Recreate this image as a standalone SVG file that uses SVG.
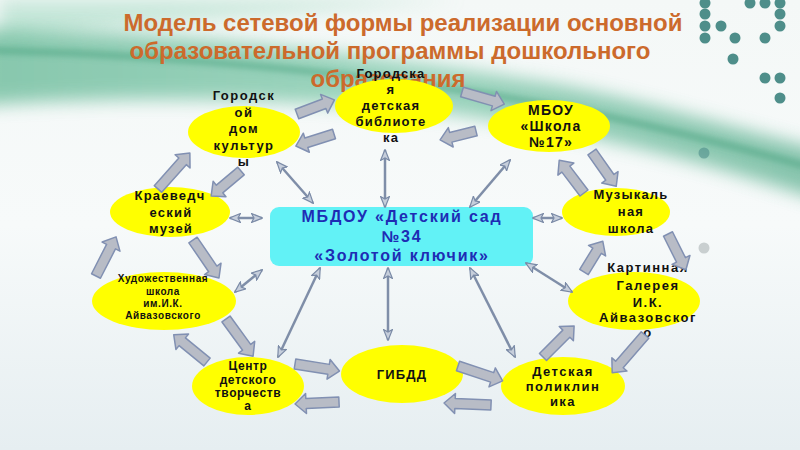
<svg xmlns="http://www.w3.org/2000/svg" width="800" height="450" viewBox="0 0 800 450">
<defs>
<linearGradient id="bg" x1="0" y1="0" x2="0" y2="1">
<stop offset="0" stop-color="#f4f8f7"/>
<stop offset="0.5" stop-color="#f7fafa"/>
<stop offset="1" stop-color="#e6eef1"/>
</linearGradient>
<linearGradient id="sw" x1="0" y1="0" x2="1" y2="0">
<stop offset="0" stop-color="#3fa77c"/>
<stop offset="0.5" stop-color="#62bd98"/>
<stop offset="1" stop-color="#3a9f78"/>
</linearGradient>
<filter id="blur" x="-10%" y="-50%" width="120%" height="200%"><feGaussianBlur stdDeviation="9"/></filter>
<filter id="blur2" x="-10%" y="-50%" width="120%" height="200%"><feGaussianBlur stdDeviation="3"/></filter>
<marker id="dh" viewBox="0 0 12 10" refX="11" refY="5" markerWidth="12" markerHeight="10" markerUnits="userSpaceOnUse" orient="auto-start-reverse">
<path d="M0.5,0.5 L11.5,5 L0.5,9.5 L3,5 Z" fill="#c6cedb" stroke="#7a8aa6" stroke-width="1.2"/>
</marker>
<style>
.title{font-family:"Liberation Sans",Arial,sans-serif;font-weight:bold;font-size:24px;fill:#cc6a2c;text-anchor:middle}
.ell{fill:#ffff00}
.nt{font-family:"Liberation Sans",Arial,sans-serif;font-weight:bold;font-size:13px;fill:#111;text-anchor:middle;letter-spacing:1.2px}
.ct{font-family:"Liberation Sans",Arial,sans-serif;font-weight:bold;font-size:16px;fill:#1e2cb4;text-anchor:middle;letter-spacing:1.8px}
.ba{fill:#b8bcc6;stroke:#8190b2;stroke-width:1.5;stroke-linejoin:round}
.ln{stroke:#7f8ea8;stroke-width:2.5;fill:none;marker-start:url(#dh);marker-end:url(#dh)}
.dot{fill:#4e8e8a}
</style>
</defs>
<rect x="0" y="0" width="800" height="450" fill="url(#bg)"/>
<g id="background">
<path d="M0,0 H460 C320,12 160,20 0,40 Z" fill="#a8dcc6" opacity="0.6" filter="url(#blur)"/>
<path d="M-20,30 C180,30 380,55 560,85 C660,105 740,130 820,150 L820,200 C730,170 610,135 460,115 C300,98 150,95 -20,105 Z" fill="url(#sw)" opacity="0.6" filter="url(#blur)"/>
<path d="M-20,50 C200,55 430,80 600,115 C680,132 750,150 820,170" stroke="#3b9a74" stroke-width="6" fill="none" opacity="0.5" filter="url(#blur2)"/>
<circle class="dot" cx="705" cy="3" r="5.5"/>
<circle class="dot" cx="705" cy="14" r="5.5"/>
<circle class="dot" cx="705" cy="26" r="5.5"/>
<circle class="dot" cx="705" cy="38" r="5.5"/>
<circle class="dot" cx="721" cy="26" r="5.5"/>
<circle class="dot" cx="735" cy="38" r="5.5"/>
<circle class="dot" cx="733" cy="59" r="5.5"/>
<circle class="dot" cx="750" cy="3" r="5.5"/>
<circle class="dot" cx="765" cy="3" r="5.5"/>
<circle class="dot" cx="780" cy="3" r="5.5"/>
<circle class="dot" cx="780" cy="14" r="5.5"/>
<circle class="dot" cx="780" cy="26" r="5.5"/>
<circle class="dot" cx="765" cy="38" r="5.5"/>
<circle class="dot" cx="765" cy="78" r="5.5"/>
<circle class="dot" cx="780" cy="78" r="5.5"/>
<circle class="dot" cx="780" cy="98" r="5.5"/>
<circle cx="704" cy="153" r="5.5" fill="#4e8e8a" opacity="0.6"/>
<circle cx="704" cy="248" r="5.5" fill="#c9cfd0"/>
</g>
<g id="title">
<text class="title" x="403" y="31">Модель сетевой формы реализации основной</text>
<text class="title" x="390" y="59">образовательной программы дошкольного</text>
<text class="title" x="388" y="87">образования</text>
</g>
<g id="center">
<rect x="270" y="207" width="263" height="59" rx="9" fill="#62f2f6"/>
<text class="ct" x="402" y="222">МБДОУ «Детский сад</text>
<text class="ct" x="402" y="242">№34</text>
<text class="ct" x="402" y="261">«Золотой ключик»</text>
</g>
<g id="dom-kultury">
<ellipse class="ell" cx="244" cy="132" rx="56" ry="26"/>
<text class="nt" x="244" y="100" style="letter-spacing:1.5px">Городск</text>
<text class="nt" x="244" y="117" style="letter-spacing:1.5px">ой</text>
<text class="nt" x="244" y="133" style="letter-spacing:1.5px">дом</text>
<text class="nt" x="244" y="150" style="letter-spacing:1.5px">культур</text>
<text class="nt" x="244" y="166" style="letter-spacing:1.5px">ы</text>
</g>
<g id="biblioteka">
<ellipse class="ell" cx="394" cy="106" rx="59" ry="27"/>
<text class="nt" x="391" y="78">Городска</text>
<text class="nt" x="391" y="94">я</text>
<text class="nt" x="391" y="110">детская</text>
<text class="nt" x="391" y="126">библиоте</text>
<text class="nt" x="391" y="142">ка</text>
</g>
<g id="shkola17">
<ellipse class="ell" cx="549" cy="126" rx="61" ry="26"/>
<text class="nt" x="551" y="115" style="font-size:14px">МБОУ</text>
<text class="nt" x="551" y="131" style="font-size:14px">«Школа</text>
<text class="nt" x="551" y="147" style="font-size:14px">№17»</text>
</g>
<g id="kraevedcheskiy">
<ellipse class="ell" cx="170" cy="212" rx="60" ry="25"/>
<text class="nt" x="170" y="200">Краеведч</text>
<text class="nt" x="171" y="217">еский</text>
<text class="nt" x="171" y="233">музей</text>
</g>
<g id="khudozhestvennaya">
<ellipse class="ell" cx="164" cy="301" rx="72" ry="29"/>
<text class="nt" x="163" y="282" style="font-size:10px;letter-spacing:0.6px">Художественная</text>
<text class="nt" x="163" y="295" style="font-size:10px;letter-spacing:0.6px">школа</text>
<text class="nt" x="163" y="307" style="font-size:10px;letter-spacing:0.6px">им.И.К.</text>
<text class="nt" x="163" y="319" style="font-size:10px;letter-spacing:0.6px">Айвазовского</text>
</g>
<g id="muzykalnaya">
<ellipse class="ell" cx="616" cy="212" rx="54" ry="24"/>
<text class="nt" x="631" y="199">Музыкаль</text>
<text class="nt" x="631" y="216">ная</text>
<text class="nt" x="631" y="233">школа</text>
</g>
<g id="kartinnaya">
<ellipse class="ell" cx="634" cy="301" rx="66" ry="29"/>
<text class="nt" x="648" y="272" style="letter-spacing:1.5px">Картинная</text>
<text class="nt" x="648" y="290" style="letter-spacing:1.5px">Галерея</text>
<text class="nt" x="648" y="307" style="letter-spacing:1.5px">И.К.</text>
<text class="nt" x="648" y="322" style="letter-spacing:1.5px">Айвазовског</text>
<text class="nt" x="648" y="337" style="letter-spacing:1.5px">о</text>
</g>
<g id="centr-tvorchestva">
<ellipse class="ell" cx="248" cy="386" rx="56" ry="29"/>
<text class="nt" x="248" y="370" style="font-size:12px;letter-spacing:0.6px">Центр</text>
<text class="nt" x="248" y="384" style="font-size:12px;letter-spacing:0.6px">детского</text>
<text class="nt" x="248" y="397" style="font-size:12px;letter-spacing:0.6px">творчеств</text>
<text class="nt" x="248" y="410" style="font-size:12px;letter-spacing:0.6px">а</text>
</g>
<g id="gibdd">
<ellipse class="ell" cx="402" cy="374" rx="61" ry="29"/>
<text class="nt" x="402" y="379">ГИБДД</text>
</g>
<g id="poliklinika">
<ellipse class="ell" cx="563" cy="386" rx="62" ry="29"/>
<text class="nt" x="563" y="376" style="letter-spacing:1.5px">Детская</text>
<text class="nt" x="563" y="391" style="letter-spacing:1.5px">поликлин</text>
<text class="nt" x="563" y="406" style="letter-spacing:1.5px">ика</text>
</g>
<g id="connectors">
<path class="ba" transform="translate(297,114) rotate(-20.7)" d="M0,-5 H29 V-10 L40,0 L29,10 V5 H0 Z"/>
<path class="ba" transform="translate(334,134) rotate(162.5)" d="M0,-5 H29 V-10 L40,0 L29,10 V5 H0 Z"/>
<path class="ba" transform="translate(462,92) rotate(15.9)" d="M0,-5 H33 V-10 L44,0 L33,10 V5 H0 Z"/>
<path class="ba" transform="translate(476,131) rotate(166)" d="M0,-5 H26 V-10 L37,0 L26,10 V5 H0 Z"/>
<path class="ba" transform="translate(592,152) rotate(54.8)" d="M0,-5 H31 V-10 L42,0 L31,10 V5 H0 Z"/>
<path class="ba" transform="translate(584,193) rotate(-127.2)" d="M0,-5 H30 V-10 L41,0 L30,10 V5 H0 Z"/>
<path class="ba" transform="translate(668,234) rotate(63.4)" d="M0,-5 H29 V-10 L40,0 L29,10 V5 H0 Z"/>
<path class="ba" transform="translate(584,272) rotate(-58.5)" d="M0,-5 H25 V-10 L36,0 L25,10 V5 H0 Z"/>
<path class="ba" transform="translate(645,335) rotate(131)" d="M0,-5 H39 V-10 L50,0 L39,10 V5 H0 Z"/>
<path class="ba" transform="translate(543,357) rotate(-45)" d="M0,-5 H33 V-10 L44,0 L33,10 V5 H0 Z"/>
<path class="ba" transform="translate(458,366) rotate(18.4)" d="M0,-5 H36 V-10 L47,0 L36,10 V5 H0 Z"/>
<path class="ba" transform="translate(491,405) rotate(182.4)" d="M0,-5 H36 V-10 L47,0 L36,10 V5 H0 Z"/>
<path class="ba" transform="translate(295,364) rotate(9)" d="M0,-5 H34 V-10 L45,0 L34,10 V5 H0 Z"/>
<path class="ba" transform="translate(339,402) rotate(177.4)" d="M0,-5 H33 V-10 L44,0 L33,10 V5 H0 Z"/>
<path class="ba" transform="translate(207,362) rotate(-140.7)" d="M0,-5 H32 V-10 L43,0 L32,10 V5 H0 Z"/>
<path class="ba" transform="translate(226,319) rotate(53.9)" d="M0,-5 H35 V-10 L46,0 L35,10 V5 H0 Z"/>
<path class="ba" transform="translate(96,276) rotate(-62.9)" d="M0,-5 H33 V-10 L44,0 L33,10 V5 H0 Z"/>
<path class="ba" transform="translate(193,240) rotate(55.6)" d="M0,-5 H35 V-10 L46,0 L35,10 V5 H0 Z"/>
<path class="ba" transform="translate(158,189) rotate(-48.4)" d="M0,-5 H37 V-10 L48,0 L37,10 V5 H0 Z"/>
<path class="ba" transform="translate(241,171) rotate(140)" d="M0,-5 H28 V-10 L39,0 L28,10 V5 H0 Z"/>
<line class="ln" x1="277" y1="162" x2="313" y2="203"/>
<line class="ln" x1="385" y1="150" x2="385" y2="207"/>
<line class="ln" x1="510" y1="160" x2="470" y2="207"/>
<line class="ln" x1="533" y1="218" x2="562" y2="218"/>
<line class="ln" x1="526" y1="263" x2="572" y2="292"/>
<line class="ln" x1="470" y1="268" x2="515" y2="357"/>
<line class="ln" x1="388" y1="268" x2="388" y2="340"/>
<line class="ln" x1="320" y1="268" x2="278" y2="357"/>
<line class="ln" x1="262" y1="270" x2="235" y2="292"/>
<line class="ln" x1="230" y1="218" x2="262" y2="218"/>
</g>
</svg>
